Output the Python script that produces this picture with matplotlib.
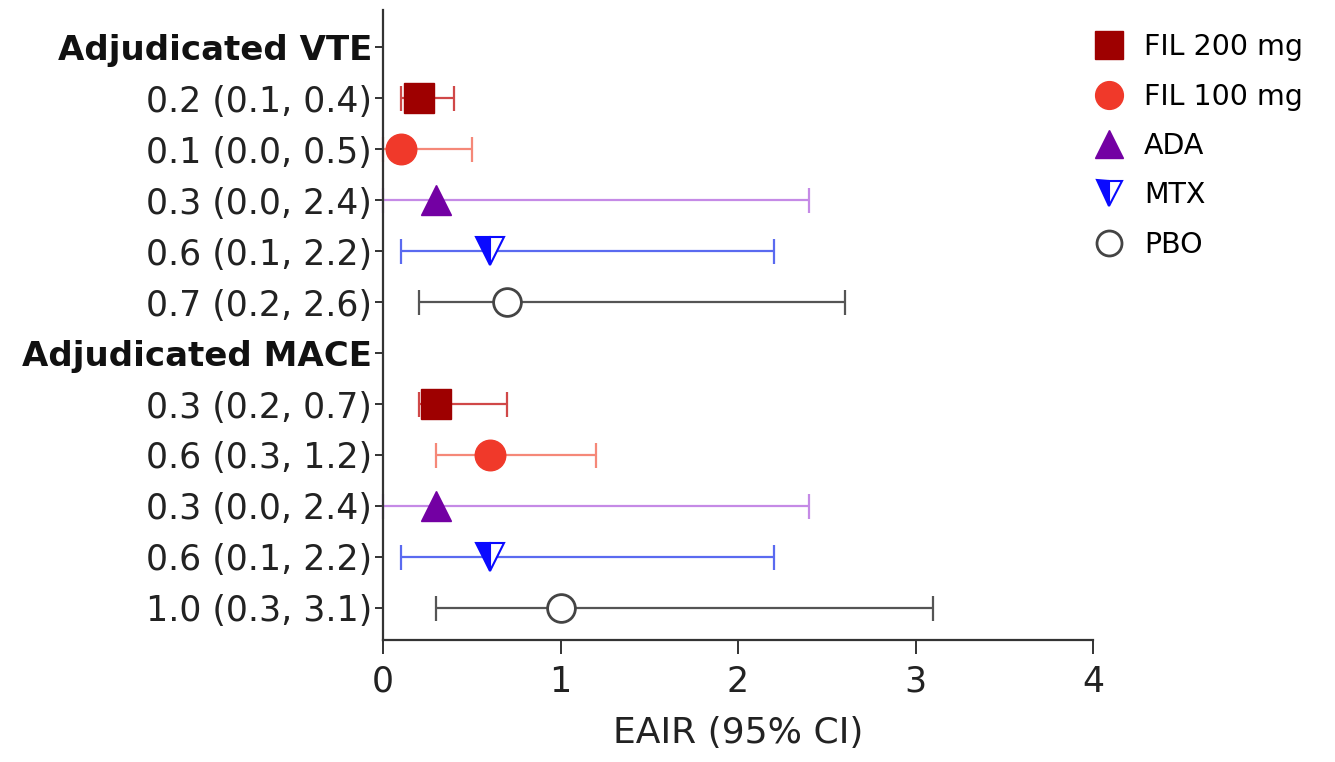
import numpy as np
import matplotlib
matplotlib.use("Agg")
import matplotlib.pyplot as plt
from matplotlib.lines import Line2D

# Data
groups = ["Adjudicated VTE", "Adjudicated MACE"]
treatments = ["FIL 200 mg", "FIL 100 mg", "ADA", "MTX", "PBO"]
vte_est = [0.2, 0.1, 0.3, 0.6, 0.7]
vte_lo = [0.1, 0.0, 0.0, 0.1, 0.2]
vte_hi = [0.4, 0.5, 2.4, 2.2, 2.6]
mace_est = [0.3, 0.6, 0.3, 0.6, 1.0]
mace_lo = [0.2, 0.3, 0.0, 0.1, 0.3]
mace_hi = [0.7, 1.2, 2.4, 2.2, 3.1]
xticks = [0, 1, 2, 3, 4]

# Styles per treatment
marker_col = ["#9e0000", "#f0392a", "#7300a3", "#0a0aff", "#444444"]
bar_col = ["#d04848", "#f58878", "#c58ae6", "#5a6af0", "#555555"]
markers = ["s", "o", "^", "v", "o"]
msizes = [22, 22, 21, 20, 20]

fig = plt.figure(figsize=(13.35, 7.62), dpi=100)
ax = fig.add_axes([383 / 1335, 1 - 640 / 762, (1093 - 383) / 1335, (640 - 10) / 762])

ypos = []
ylabels = []
row = 0
for g, est, lo, hi in [(groups[0], vte_est, vte_lo, vte_hi),
                       (groups[1], mace_est, mace_lo, mace_hi)]:
    ypos.append(row)
    ylabels.append(g)
    row += 1
    for k in range(len(treatments)):
        e = est[k]
        ax.errorbar(e, row, xerr=[[e - lo[k]], [hi[k] - e]], fmt="none",
                    ecolor=bar_col[k], elinewidth=1.6, capsize=9, capthick=1.6,
                    zorder=2, clip_on=False)
        if k == 3:
            ax.plot(e, row, marker=markers[k], ms=msizes[k], color=marker_col[k],
                    fillstyle="left", markerfacecoloralt="white", mew=1.5,
                    linestyle="none", zorder=3, clip_on=False)
        elif k == 4:
            ax.plot(e, row, marker=markers[k], ms=msizes[k], mfc="white",
                    mec=marker_col[k], mew=2, linestyle="none", zorder=3, clip_on=False)
        else:
            ax.plot(e, row, marker=markers[k], ms=msizes[k], color=marker_col[k],
                    linestyle="none", zorder=3, clip_on=False)
        ypos.append(row)
        ylabels.append(f"{e:.1f} ({lo[k]:.1f}, {hi[k]:.1f})")
        row += 1

ax.set_xlim(0, 4)
ax.set_ylim(11.63, -0.73)
ax.set_xticks(xticks)
ax.set_xticklabels([str(t) for t in xticks], fontsize=25, color="#222222")
ax.set_yticks(ypos)
ax.set_yticklabels(ylabels, fontsize=25, color="#222222")
for lab in ax.get_yticklabels():
    if lab.get_text() in groups:
        lab.set_fontweight("bold")
        lab.set_fontsize(24.5)
        lab.set_color("#111111")

ax.set_xlabel("EAIR (95% CI)", fontsize=26, color="#222222", labelpad=12)

for s in ["top", "right"]:
    ax.spines[s].set_visible(False)
for s in ["left", "bottom"]:
    ax.spines[s].set_color("#333333")
    ax.spines[s].set_linewidth(1.6)
ax.tick_params(axis="y", length=6, width=1.4, color="#333333", pad=2)
ax.tick_params(axis="x", length=10, width=1.4, color="#333333", pad=8)

# Legend with markers only
handles = []
for k in range(len(treatments)):
    if k == 3:
        h = Line2D([], [], marker=markers[k], ms=18, color=marker_col[k],
                   fillstyle="left", markerfacecoloralt="white", mew=1.5, linestyle="none")
    elif k == 4:
        h = Line2D([], [], marker=markers[k], ms=18, mfc="white",
                   mec=marker_col[k], mew=2, linestyle="none")
    else:
        h = Line2D([], [], marker=markers[k], ms=20, color=marker_col[k], linestyle="none")
    handles.append(h)
fig.legend(handles, treatments, loc="upper left", bbox_to_anchor=(1083 / 1335, 1 - 22 / 762),
           frameon=False, fontsize=20.5, handlelength=1.0, handletextpad=0.75,
           labelspacing=0.75, borderaxespad=0)

fig.savefig("out.png", dpi=100)
